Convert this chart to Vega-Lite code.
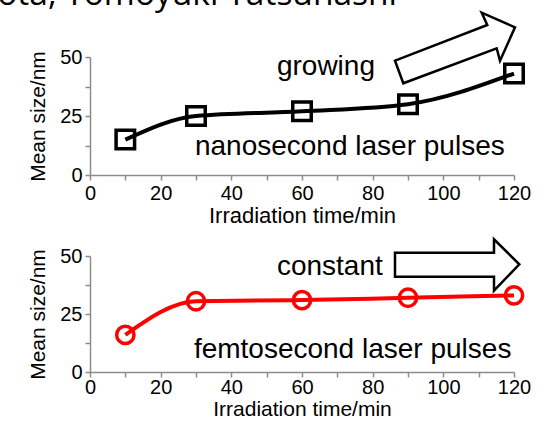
{
  "$schema": "https://vega.github.io/schema/vega-lite/v6.json",
  "width": 424,
  "height": 315,
  "autosize": {"type": "none"},
  "padding": {"left": 90, "top": 57, "right": 25, "bottom": 49},
  "background": "white",
  "config": {
    "view": {"stroke": null},
    "font": "Liberation Sans",
    "axis": {
      "grid": false,
      "domainColor": "#8c8c8c",
      "domainWidth": 1.5,
      "tickColor": "#8c8c8c",
      "tickWidth": 1.5,
      "tickSize": 5,
      "labelFont": "Liberation Sans",
      "labelFontSize": 20,
      "labelColor": "black",
      "labelPadding": 3,
      "labelFlush": false,
      "labelOverlap": false,
      "labelBound": false,
      "titleFont": "Liberation Sans",
      "titleFontSize": 20,
      "titleFontWeight": "normal",
      "titleColor": "black"
    }
  },
  "datasets": {
    "ns": [
      {"t": 10, "v": 15},
      {"t": 30, "v": 25},
      {"t": 60, "v": 27},
      {"t": 90, "v": 30},
      {"t": 120, "v": 43}
    ],
    "fs": [
      {"t": 10, "v": 16},
      {"t": 30, "v": 30.5},
      {"t": 60, "v": 31},
      {"t": 90, "v": 32},
      {"t": 120, "v": 33}
    ],
    "nsText": [
      {"t": 52.9, "v": 42.4, "label": "growing"},
      {"t": 29.7, "v": 8.5, "label": "nanosecond laser pulses"}
    ],
    "fsText": [
      {"t": 52.9, "v": 41.8, "label": "constant"},
      {"t": 29.4, "v": 6, "label": "femtosecond laser pulses"}
    ],
    "header": [
      {"t": 86.9, "v": 72, "label": "Kota, Tomoyuki Yatsuhashi"}
    ],
    "arrowUp": [
      {"i": 1, "t": 88.67, "v": 38.86},
      {"i": 2, "t": 86.32, "v": 48.43},
      {"i": 3, "t": 112.44, "v": 63.56},
      {"i": 4, "t": 110.86, "v": 68.77},
      {"i": 5, "t": 120.28, "v": 62.58},
      {"i": 6, "t": 116.04, "v": 48.43},
      {"i": 7, "t": 115.1, "v": 53.69}
    ],
    "arrowRight": [
      {"i": 1, "t": 86.32, "v": 51.42},
      {"i": 2, "t": 114.34, "v": 51.42},
      {"i": 3, "t": 114.34, "v": 57.2},
      {"i": 4, "t": 121.5, "v": 46.42},
      {"i": 5, "t": 114.34, "v": 35.04},
      {"i": 6, "t": 114.34, "v": 41.08},
      {"i": 7, "t": 86.32, "v": 41.08}
    ]
  },
  "layer": [
    {
      "encoding": {
        "x": {
          "field": "t",
          "type": "quantitative",
          "scale": {"domain": [0, 120], "nice": false, "zero": false},
          "axis": {
            "orient": "bottom",
            "offset": -197,
            "values": [0, 10, 20, 30, 40, 50, 60, 70, 80, 90, 100, 110, 120],
            "labelExpr": "datum.value % 20 == 0 ? datum.label : ''",
            "title": "Irradiation time/min",
            "titleFontSize": 22,
            "titlePadding": 2
          }
        },
        "y": {
          "field": "v",
          "type": "quantitative",
          "scale": {"domain": [0, 50], "range": [118, 0], "nice": false},
          "axis": {
            "orient": "left",
            "values": [0, 12.5, 25, 37.5, 50],
            "labelExpr": "datum.value % 25 == 0 ? datum.label : ''",
            "title": "Mean size/nm",
            "titleFontSize": 21,
            "titlePadding": 11
          }
        }
      },
      "layer": [
        {
          "data": {"name": "ns"},
          "mark": {"type": "line", "interpolate": "monotone", "color": "black", "strokeWidth": 4}
        },
        {
          "data": {"name": "ns"},
          "mark": {"type": "point", "shape": "square", "filled": false, "color": "black", "strokeWidth": 3.5, "size": 342, "opacity": 1}
        },
        {
          "data": {"name": "arrowUp"},
          "mark": {"type": "line", "interpolate": "linear-closed", "color": "black", "strokeWidth": 2.5},
          "encoding": {"order": {"field": "i", "type": "quantitative"}}
        },
        {
          "data": {"name": "nsText"},
          "mark": {"type": "text", "align": "left", "baseline": "alphabetic", "fontSize": 28, "font": "Liberation Sans", "color": "black"},
          "encoding": {"text": {"field": "label"}}
        },
        {
          "data": {"name": "header"},
          "mark": {"type": "text", "align": "right", "baseline": "alphabetic", "fontSize": 33.5, "font": "Open Sans", "color": "black"},
          "encoding": {"text": {"field": "label"}}
        }
      ]
    },
    {
      "encoding": {
        "x": {
          "field": "t",
          "type": "quantitative",
          "scale": {"domain": [0, 120], "nice": false, "zero": false},
          "axis": {
            "orient": "bottom",
            "values": [0, 10, 20, 30, 40, 50, 60, 70, 80, 90, 100, 110, 120],
            "labelExpr": "datum.value % 20 == 0 ? datum.label : ''",
            "title": "Irradiation time/min",
            "titleFontSize": 21,
            "labelPadding": 0,
            "titlePadding": 1
          }
        },
        "y": {
          "field": "v",
          "type": "quantitative",
          "scale": {"domain": [0, 50], "range": [315, 199], "nice": false},
          "axis": {
            "orient": "left",
            "values": [0, 12.5, 25, 37.5, 50],
            "labelExpr": "datum.value % 25 == 0 ? datum.label : ''",
            "title": "Mean size/nm",
            "titleFontSize": 21,
            "titlePadding": 11
          }
        }
      },
      "layer": [
        {
          "data": {"name": "fs"},
          "mark": {"type": "line", "interpolate": "monotone", "color": "#ff0000", "strokeWidth": 4}
        },
        {
          "data": {"name": "fs"},
          "mark": {"type": "point", "shape": "circle", "filled": false, "color": "#ff0000", "strokeWidth": 3.5, "size": 300, "opacity": 1}
        },
        {
          "data": {"name": "arrowRight"},
          "mark": {"type": "line", "interpolate": "linear-closed", "color": "black", "strokeWidth": 2.5},
          "encoding": {"order": {"field": "i", "type": "quantitative"}}
        },
        {
          "data": {"name": "fsText"},
          "mark": {"type": "text", "align": "left", "baseline": "alphabetic", "fontSize": 28, "font": "Liberation Sans", "color": "black"},
          "encoding": {"text": {"field": "label"}}
        }
      ]
    }
  ],
  "resolve": {
    "scale": {"x": "independent", "y": "independent"},
    "axis": {"x": "independent", "y": "independent"}
  }
}
